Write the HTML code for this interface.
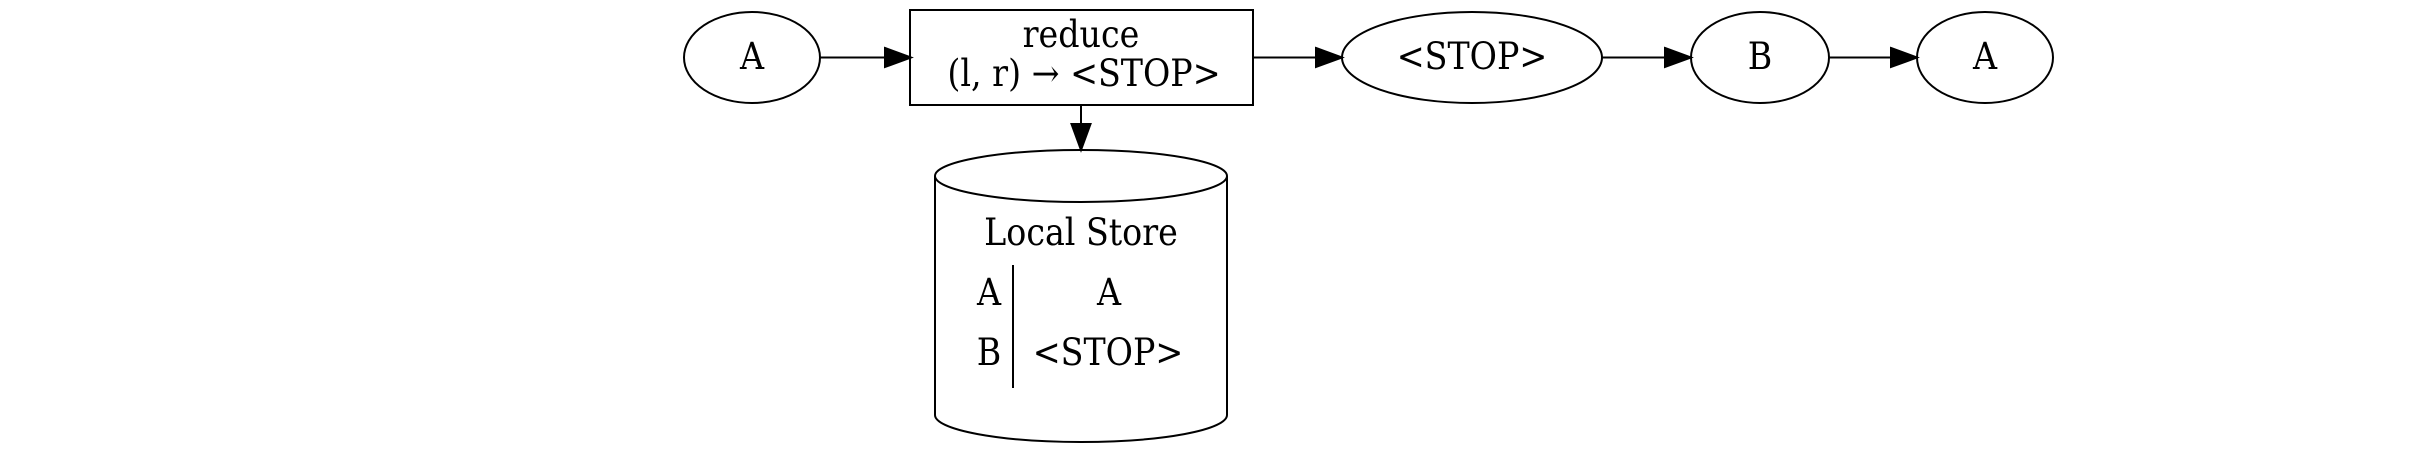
<!DOCTYPE html>
<html><head><style>html,body{margin:0;padding:0;background:#fff}svg{display:block}</style></head>
<body>
<svg width="2412" height="451" viewBox="0 0 2412 451" xmlns="http://www.w3.org/2000/svg" font-family="'DejaVu Serif Condensed', 'Liberation Serif', serif" font-size="37" fill="none" stroke="#000" stroke-width="2">
<!-- A -->
<ellipse cx="752" cy="57.5" rx="68" ry="45.5"/>
<text x="752" y="69" text-anchor="middle" fill="#000" stroke="none">A</text>
<line x1="820" y1="57.5" x2="885" y2="57.5"/>
<polygon points="885,48 911,57.5 885,67" fill="#000"/>
<!-- reduce box -->
<rect x="910" y="10" width="343" height="95"/>
<text x="1081" y="47" text-anchor="middle" fill="#000" stroke="none">reduce</text>
<text x="1084" y="86" text-anchor="middle" fill="#000" stroke="none">(l, r) → &lt;STOP&gt;</text>
<line x1="1253" y1="57.5" x2="1316" y2="57.5"/>
<polygon points="1316,48 1342,57.5 1316,67" fill="#000"/>
<!-- STOP -->
<ellipse cx="1472" cy="57.5" rx="130" ry="45.5"/>
<text x="1472" y="69" text-anchor="middle" fill="#000" stroke="none">&lt;STOP&gt;</text>
<line x1="1602" y1="57.5" x2="1665" y2="57.5"/>
<polygon points="1665,48 1691,57.5 1665,67" fill="#000"/>
<!-- B -->
<ellipse cx="1760" cy="57.5" rx="69" ry="45.5"/>
<text x="1760" y="69" text-anchor="middle" fill="#000" stroke="none">B</text>
<line x1="1829" y1="57.5" x2="1891" y2="57.5"/>
<polygon points="1891,48 1917,57.5 1891,67" fill="#000"/>
<!-- A -->
<ellipse cx="1985" cy="57.5" rx="68" ry="45.5"/>
<text x="1985" y="69" text-anchor="middle" fill="#000" stroke="none">A</text>
<!-- down arrow -->
<line x1="1081" y1="105" x2="1081" y2="124"/>
<polygon points="1071.5,124 1090.5,124 1081,150" fill="#000"/>
<!-- cylinder -->
<path d="M935,176 A146,26 0 0 1 1227,176 L1227,415 A146,27 0 0 1 935,415 Z"/>
<path d="M935,176 A146,26 0 0 0 1227,176"/>
<text x="1081" y="245" text-anchor="middle" fill="#000" stroke="none">Local Store</text>
<line x1="1013" y1="265" x2="1013" y2="388"/>
<text x="989" y="305" text-anchor="middle" fill="#000" stroke="none">A</text>
<text x="989" y="365" text-anchor="middle" fill="#000" stroke="none">B</text>
<text x="1109" y="305" text-anchor="middle" fill="#000" stroke="none">A</text>
<text x="1108" y="365" text-anchor="middle" fill="#000" stroke="none">&lt;STOP&gt;</text>
</svg>
</body></html>
